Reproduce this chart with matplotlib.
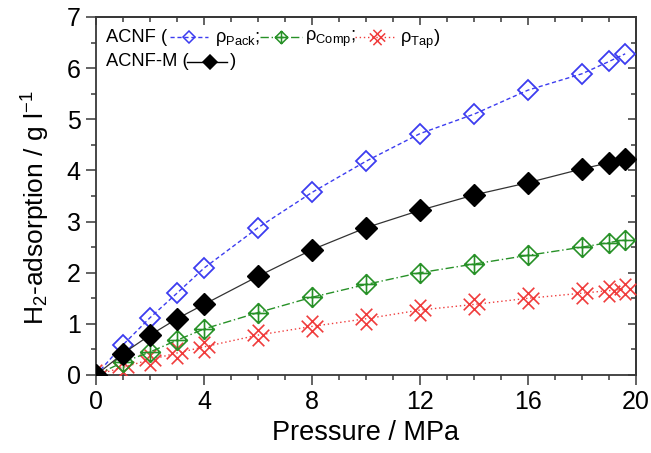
import matplotlib
matplotlib.use("Agg")
import matplotlib.pyplot as plt
from matplotlib.lines import Line2D
from matplotlib.path import Path
import numpy as np

plt.rcParams['font.family'] = ['Liberation Sans', 'DejaVu Sans']
plt.rcParams['mathtext.fontset'] = 'custom'
plt.rcParams['mathtext.rm'] = 'Liberation Sans'
plt.rcParams['mathtext.it'] = 'Liberation Sans:italic'
plt.rcParams['mathtext.bf'] = 'Liberation Sans:bold'

# ---------------- data ----------------
pressure = [0, 1, 2, 3, 4, 6, 8, 10, 12, 14, 16, 18, 19, 19.6]
acnf_pack = [0, 0.59, 1.12, 1.60, 2.09, 2.88, 3.57, 4.18, 4.72, 5.10, 5.57, 5.89, 6.13, 6.28]
acnf_comp = [0, 0.25, 0.45, 0.68, 0.90, 1.22, 1.52, 1.77, 2.00, 2.17, 2.34, 2.50, 2.59, 2.64]
acnf_tap = [0, 0.15, 0.30, 0.43, 0.55, 0.78, 0.95, 1.10, 1.27, 1.38, 1.50, 1.60, 1.65, 1.68]
acnf_m = [0, 0.42, 0.78, 1.10, 1.38, 1.93, 2.45, 2.88, 3.22, 3.52, 3.76, 4.03, 4.15, 4.22]

xticks = [0, 4, 8, 12, 16, 20]
yticks = [0, 1, 2, 3, 4, 5, 6, 7]
xminor = [1, 2, 3, 5, 6, 7, 9, 10, 11, 13, 14, 15, 17, 18, 19]
yminor = [0.5, 1.5, 2.5, 3.5, 4.5, 5.5, 6.5]

BLUE = '#3c3cf0'
GREEN = '#279127'
RED = '#f03c3c'
BLACK = '#000000'
AXC = '#383838'

# custom marker shapes
c = 0.46
M, L = Path.MOVETO, Path.LINETO
hatch_x = Path(
    [(-1, -1 + c), (1 - c, 1), (-1 + c, -1), (1, 1 - c),
     (c - 1, 1), (1, c - 1), (-1, 1 - c), (1 - c, -1)],
    [M, L, M, L, M, L, M, L])
cross_diamond = Path(
    [(0, -1), (1, 0), (0, 1), (-1, 0), (0, -1), (0, -1), (0, 1), (-1, 0), (1, 0)],
    [M, L, L, L, Path.CLOSEPOLY, M, L, M, L])

W, H = 651, 453
fig = plt.figure(figsize=(W / 100, H / 100), dpi=100)
ax = fig.add_axes([96 / W, 1 - 375 / H, 540 / W, 358 / H])

ax.plot(pressure, acnf_tap, ls=(0, (1, 2)), lw=1, color=RED, marker=hatch_x, ms=15.5,
        mfc='none', mec=RED, mew=1.2, zorder=3)
ax.plot(pressure, acnf_comp, ls=(0, (6, 2, 1, 2)), lw=1, color=GREEN, marker=cross_diamond, ms=14.2,
        mfc='none', mec=GREEN, mew=1.2, zorder=4)
ax.plot(pressure, acnf_pack, ls=(0, (3, 2)), lw=1, color=BLUE, marker='D', ms=10.0,
        mfc='none', mec=BLUE, mew=1.3, zorder=5)
ax.plot(pressure, acnf_m, ls='-', lw=0.9, color='#333333', marker='D', ms=11,
        mfc=BLACK, mec=BLACK, zorder=6)

ax.set_xlim(0, 20)
ax.set_ylim(0, 7)
ax.set_xticks(xticks)
ax.set_yticks(yticks)
ax.set_xticks(xminor, minor=True)
ax.set_yticks(yminor, minor=True)
ax.tick_params(axis='both', which='major', direction='out', length=7, width=1.1,
               labelsize=18, pad=4, color=AXC)
ax.tick_params(axis='both', which='minor', direction='out', length=3.6, width=1.1, color=AXC)
for s in ax.spines.values():
    s.set_linewidth(1.3)
    s.set_color(AXC)

# mirrored inward ticks on top and right
top = ax.secondary_xaxis('top')
top.set_xticks(xticks)
top.set_xticks(xminor, minor=True)
top.tick_params(which='major', direction='in', length=6, width=1.1, labeltop=False, color=AXC)
top.tick_params(which='minor', direction='in', length=3.6, width=1.1, color=AXC)
top.spines['top'].set_linewidth(1.3)
top.spines['top'].set_color(AXC)
right = ax.secondary_yaxis('right')
right.set_yticks(yticks)
right.set_yticks(yminor, minor=True)
right.tick_params(which='major', direction='in', length=6, width=1.1, labelright=False, color=AXC)
right.tick_params(which='minor', direction='in', length=3.6, width=1.1, color=AXC)
right.spines['right'].set_linewidth(1.3)
right.spines['right'].set_color(AXC)

ax.set_xlabel('Pressure / MPa', fontsize=19.5)
ax.xaxis.set_label_coords(0.5, (375 - 420) / 358)
ax.set_ylabel('H$_2$-adsorption / g l$^{-1}$', fontsize=19)
ax.yaxis.set_label_coords((52 - 96) / 540, (375 - 208) / 358)

# ---------------- custom legend ----------------
def fp(x, y):
    return x / W, 1 - y / H

fs = 13.2
def txt(x, y, s):
    fig.text(*fp(x, y), s, fontsize=fs, va='center', ha='left')

def sample(x0, x1, xm, y, color, ls, marker, mfc, msz, mew=1.1):
    a, b = fp(x0, y)
    c_, _ = fp(x1, y)
    m, _ = fp(xm, y)
    fig.add_artist(Line2D([a, c_], [b, b], transform=fig.transFigure, color=color, ls=ls, lw=1))
    fig.add_artist(Line2D([m], [b], transform=fig.transFigure, marker=marker, ms=msz,
                          mfc=mfc, mec=color, mew=mew, ls='none'))

y1, y2 = 37, 62
txt(106, y1, 'ACNF (')
sample(170, 208, 189, y1, BLUE, (0, (3, 2)), 'D', 'none', 6.3)
txt(215, y1 + 2, 'ρ$_{\\mathrm{Pack}}$;')
sample(260, 302, 281, y1, GREEN, (0, (6, 2, 1, 2)), cross_diamond, 'none', 9)
txt(305, y1 + 2, 'ρ$_{\\mathrm{Comp}}$;')
sample(355, 395, 377, y1, RED, (0, (1, 2)), hatch_x, 'none', 11)
txt(400, y1 + 2, 'ρ$_{\\mathrm{Tap}}$)')
txt(106, y2, 'ACNF-M (')
sample(187, 227, 210, y2, BLACK, '-', 'D', BLACK, 7.5)
txt(230, y2, ')')

fig.savefig('out.png', dpi=100)
